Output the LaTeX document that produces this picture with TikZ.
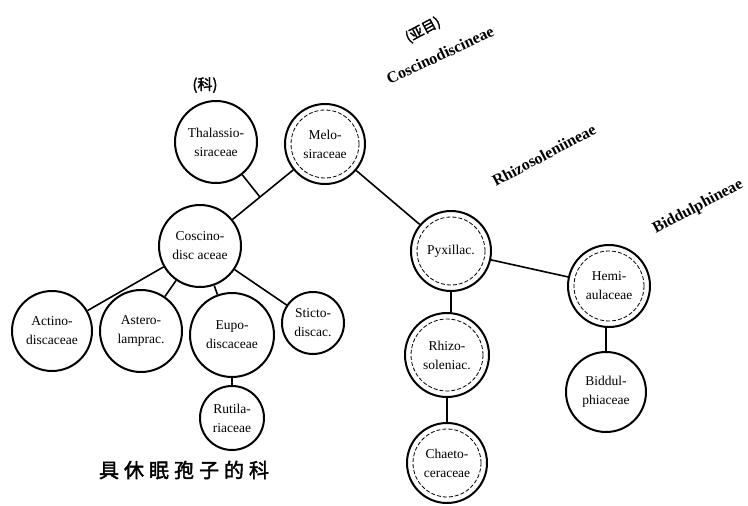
\documentclass[tikz,border=0pt]{standalone}
\usepackage{fontspec}
\setmainfont{Liberation Serif}
\newfontfamily\cjk[AutoFakeBold=2,LetterSpace=25]{Noto Sans CJK SC}
\newfontfamily\cjklabel[AutoFakeBold=2]{Noto Sans CJK SC}
\usetikzlibrary{calc}

\begin{document}
\begin{tikzpicture}[x=1pt,y=-1pt]
        \tikzstyle{every node}+=[inner sep=0pt]
        \tikzstyle{family}=[draw,circle,line width=2pt,align=center,font=\fontsize{13.5}{19}\selectfont]
        \tikzstyle{suborder}=[rotate=28,font=\fontsize{16}{16}\selectfont\bfseries]
        \tikzstyle{link}=[line width=1.6pt]
        \useasboundingbox (0,0) rectangle (748,506);
        % families
        \node [family,minimum size=82pt] (thalassio) at (216,142) {Thalassio-\\siraceae};
        \node [family,minimum size=80pt] (melo) at (325,144) {Melo-\\siraceae};
        \node [family,minimum size=82pt] (coscino) at (200,246) {Coscino-\\disc aceae};
        \node [family,minimum size=80pt] (actino) at (52,331) {Actino-\\discaceae};
        \node [family,minimum size=82pt] (astero) at (141,331) {Astero-\\lamprac.};
        \node [family,minimum size=84pt] (eupo) at (232,335) {Eupo-\\discaceae};
        \node [family,minimum size=62pt] (sticto) at (313,323) {Sticto-\\discac.};
        \node [family,minimum size=64pt] (rutila) at (232,418) {Rutila-\\riaceae};
        \node [family,minimum size=80pt] (pyxillac) at (451,251) {Pyxillac.};
        \node [family,minimum size=82pt] (hemi) at (609,286) {Hemi-\\aulaceae};
        \node [family,minimum size=84pt] (rhizo) at (447,355) {Rhizo-\\soleniac.};
        \node [family,minimum size=80pt] (chaeto) at (447,463) {Chaeto-\\ceraceae};
        \node [family,minimum size=80pt] (biddul) at (606,392) {Biddul-\\phiaceae};
        % inner dashed rings
        \foreach \n/\r in {melo/34,pyxillac/34,hemi/35,rhizo/36,chaeto/34}
                \draw [line width=0.8pt,dash pattern=on 4pt off 2pt] (\n.center) circle[radius=\r pt];
        % connectors
        \coordinate (fork) at ($(melo)!0.52!(coscino)$);
        \draw [link] (melo) -- (coscino);
        \draw [link] (thalassio) -- (fork);
        \draw [link] (coscino) -- (actino);
        \draw [link] (coscino) -- (astero);
        \draw [link] (coscino) -- (eupo);
        \draw [link] (coscino) -- (sticto);
        \draw [link] (eupo) -- (rutila);
        \draw [link] (melo) -- (pyxillac);
        \draw [link] (pyxillac) -- (hemi);
        \draw [link] (pyxillac.south) -- (rhizo.north -| pyxillac.south);
        \draw [link] (rhizo) -- (chaeto);
        \draw [link] (hemi.south -| biddul.north) -- (biddul);
        % suborders
        \node [rotate=28,font=\cjklabel\bfseries\fontsize{14}{14}\selectfont] (suborderlabel) at (423,30) {(亚目)};
        \node [suborder,rotate=-3] (coscineae) at (440,55) {Coscinodiscineae};
        \node [font=\cjklabel\bfseries\fontsize{15}{15}\selectfont] (familylabel) at (205,85) {(科)};
        \node [suborder] (rhizineae) at (544,155) {Rhizosoleniineae};
        \node [suborder] (biddineae) at (698,207) {Biddulphineae};
        \node [font=\cjk\bfseries\fontsize{20}{20}\selectfont] (caption) at (184,470) {具休眠孢子的科};
\end{tikzpicture}
\end{document}
